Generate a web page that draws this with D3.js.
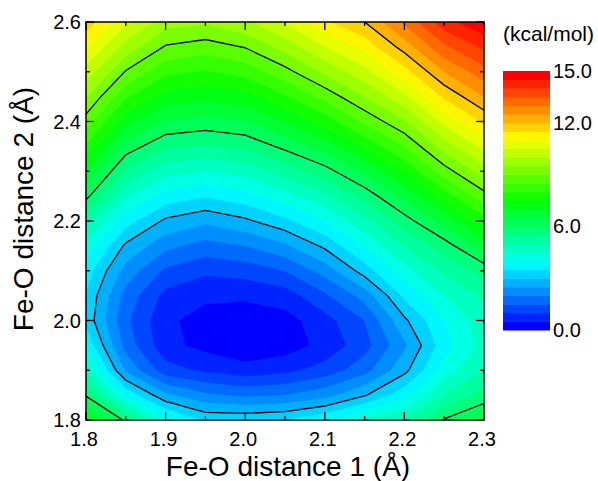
<!DOCTYPE html>
<html><head><meta charset="utf-8">
<script src="https://cdn.jsdelivr.net/npm/d3@7"></script>
<style>body{margin:0;background:#fff} text{font-family:Arial,"Liberation Sans",sans-serif;fill:#000}</style>
</head><body><svg id="c" width="598" height="481"></svg>
<script>
// Fe-O distance 1 (x) and Fe-O distance 2 (y) grid, Å
const xValues = [1.80,1.85,1.90,1.95,2.00,2.05,2.10,2.15,2.20,2.25,2.30];
const yValues = [1.80,1.85,1.90,1.95,2.00,2.05,2.10,2.15,2.20,2.25,2.30,2.35,2.40,2.45,2.50,2.55,2.60];
// relative energy (kcal/mol), one row per y value
const energy = [
  [7.2, 5.9, 4.2, 3.4, 3.4, 3.5, 3.9, 4.6, 5.0, 6.05, 6.6],
  [5.95, 3.9, 2.6, 2.1, 1.9, 2.0, 2.3, 2.95, 3.8, 5.0, 5.7],
  [4.8, 2.4, 1.2, 0.9, 0.7, 0.85, 1.2, 1.8, 2.85, 4.2, 5.0],
  [3.9, 1.8, 0.65, 0.35, 0.1, 0.25, 0.65, 1.3, 2.4, 3.8, 4.7],
  [3.35, 1.6, 0.6, 0.3, 0.15, 0.3, 0.8, 1.5, 2.9, 4.0, 4.8],
  [3.45, 1.8, 0.85, 0.6, 0.6, 0.75, 1.4, 2.2, 3.6, 4.5, 5.1],
  [3.75, 2.3, 1.4, 1.1, 1.2, 1.5, 2.2, 3.24, 4.3, 5.1, 5.7],
  [4.35, 2.9, 2.15, 1.8, 2.0, 2.4, 3.11, 4.05, 5.04, 5.75, 6.73],
  [5.1, 3.72, 2.9, 2.6, 2.9, 3.37, 4.0, 4.86, 5.77, 6.7, 7.77],
  [6.15, 4.57, 3.79, 3.53, 3.8, 4.3, 4.89, 5.68, 6.64, 7.74, 8.8],
  [7.0, 5.43, 4.69, 4.48, 4.7, 5.22, 5.79, 6.6, 7.57, 8.77, 9.75],
  [7.9, 6.29, 5.59, 5.43, 5.6, 6.14, 6.74, 7.6, 8.51, 9.72, 10.66],
  [8.77, 7.19, 6.45, 6.32, 6.48, 7.04, 7.7, 8.6, 9.44, 10.65, 11.58],
  [9.55, 8.08, 7.28, 7.13, 7.33, 7.93, 8.67, 9.5, 10.37, 11.57, 12.5],
  [10.3, 8.96, 8.12, 7.95, 8.18, 8.82, 9.6, 10.33, 11.3, 12.5, 13.3],
  [11.05, 9.8, 8.95, 8.76, 9.03, 9.7, 10.5, 11.17, 12.22, 13.4, 14.1],
  [11.8, 10.6, 9.7, 9.57, 9.9, 10.55, 11.4, 12.0, 13.1, 14.3, 14.9]
];
const lineLevels = [3, 6, 9, 12];
const xTickValues = [1.8, 1.9, 2.0, 2.1, 2.2, 2.3];
const xTickLabels = ["1.8", "1.9", "2.0", "2.1", "2.2", "2.3"];
const yTickValues = [1.8, 2.0, 2.2, 2.4, 2.6];
const yTickLabels = ["1.8", "2.0", "2.2", "2.4", "2.6"];
const colorbarValues = [0, 6, 12, 15];
const colorbarLabels = ["0.0", "6.0", "12.0", "15.0"];
const colorStops = [0, 3.75, 7.5, 11.25, 15];
const colorRange = ["#0000ff", "#00ffff", "#00ff00", "#ffff00", "#ff0000"];

const svg = d3.select("#c");
const L = 86, R = 484, T = 22, B = 420;
const x = d3.scaleLinear([1.8, 2.3], [L, R]);
const y = d3.scaleLinear([1.8, 2.6], [B, T]);
const nx = xValues.length, ny = yValues.length;
const gx = d3.scaleLinear([0.5, nx - 0.5], [x(xValues[0]), x(xValues[nx - 1])]);
const gy = d3.scaleLinear([0.5, ny - 0.5], [y(yValues[0]), y(yValues[ny - 1])]);
const cmap = d3.scaleLinear(colorStops, colorRange).clamp(true);

const nBands = 30, step = 0.5;
const bandColor = k => cmap(k * 15 / (nBands - 1));

const values = energy.flat();
const proj = d3.geoTransform({point(px, py) { this.stream.point(gx(px), gy(py)); }});
const path = d3.geoPath(proj);

svg.append("clipPath").attr("id", "clip").append("rect")
  .attr("x", L).attr("y", T).attr("width", R - L).attr("height", B - T);

const plot = svg.append("g").attr("clip-path", "url(#clip)");
const thresholds = d3.range(nBands).map(k => k * step);
const bands = d3.contours().size([nx, ny]).thresholds(thresholds)(values);
plot.selectAll("path.band").data(bands).join("path")
  .attr("class", "band")
  .attr("d", path)
  .attr("fill", (d, i) => bandColor(i))
  .attr("stroke", (d, i) => bandColor(i))
  .attr("stroke-width", 0.5);

const lines = d3.contours().size([nx, ny]).thresholds(lineLevels)(values);
plot.selectAll("path.line").data(lines).join("path")
  .attr("class", "line")
  .attr("d", path)
  .attr("fill", "none")
  .attr("stroke", "#000")
  .attr("stroke-width", 1.3)
  .attr("stroke-linejoin", "round");

// frame
svg.append("rect").attr("x", L).attr("y", T).attr("width", R - L).attr("height", B - T)
  .attr("fill", "none").attr("stroke", "#000").attr("stroke-width", 1.5);

// ticks (inward)
const tk = svg.append("g").attr("stroke", "#000").attr("stroke-width", 1.3);
x.ticks(10).forEach(v => {
  const major = xTickValues.some(t => Math.abs(t - v) < 1e-6);
  const len = major ? 8 : 4;
  tk.append("line").attr("x1", x(v)).attr("x2", x(v)).attr("y1", B).attr("y2", B - len);
  tk.append("line").attr("x1", x(v)).attr("x2", x(v)).attr("y1", T).attr("y2", T + len);
});
y.ticks(8).forEach(v => {
  const major = yTickValues.some(t => Math.abs(t - v) < 1e-6);
  const len = major ? 8 : 4;
  tk.append("line").attr("y1", y(v)).attr("y2", y(v)).attr("x1", L).attr("x2", L + len);
  tk.append("line").attr("y1", y(v)).attr("y2", y(v)).attr("x1", R).attr("x2", R - len);
});

// tick labels
svg.append("g").selectAll("text").data(xTickValues).join("text")
  .attr("x", d => x(d) - 2).attr("y", 446).attr("text-anchor", "middle")
  .attr("font-size", 20).text((d, i) => xTickLabels[i]);
svg.append("g").selectAll("text").data(yTickValues).join("text")
  .attr("x", 81).attr("y", d => y(d) + 7).attr("text-anchor", "end")
  .attr("font-size", 20).text((d, i) => yTickLabels[i]);

// axis titles
svg.append("text").attr("x", 288).attr("y", 476).attr("text-anchor", "middle")
  .attr("font-size", 28).text("Fe-O distance 1 (Å)");
svg.append("text").attr("transform", "translate(33,209) rotate(-90)")
  .attr("text-anchor", "middle").attr("font-size", 28).text("Fe-O distance 2 (Å)");

// colorbar
const cb = d3.scaleLinear([0, 15], [330, 71]);
const cbx = 503, cbw = 47;
svg.append("g").selectAll("rect").data(d3.range(nBands)).join("rect")
  .attr("x", cbx).attr("width", cbw)
  .attr("y", k => cb((k + 1) * step)).attr("height", k => cb(k * step) - cb((k + 1) * step) + 0.5)
  .attr("fill", k => bandColor(k));
svg.append("g").selectAll("text").data(colorbarValues).join("text")
  .attr("x", 553).attr("y", d => cb(d) + 7).attr("font-size", 20)
  .text((d, i) => colorbarLabels[i]);
svg.append("text").attr("x", 503).attr("y", 41).attr("font-size", 21).text("(kcal/mol)");
</script></body></html>
